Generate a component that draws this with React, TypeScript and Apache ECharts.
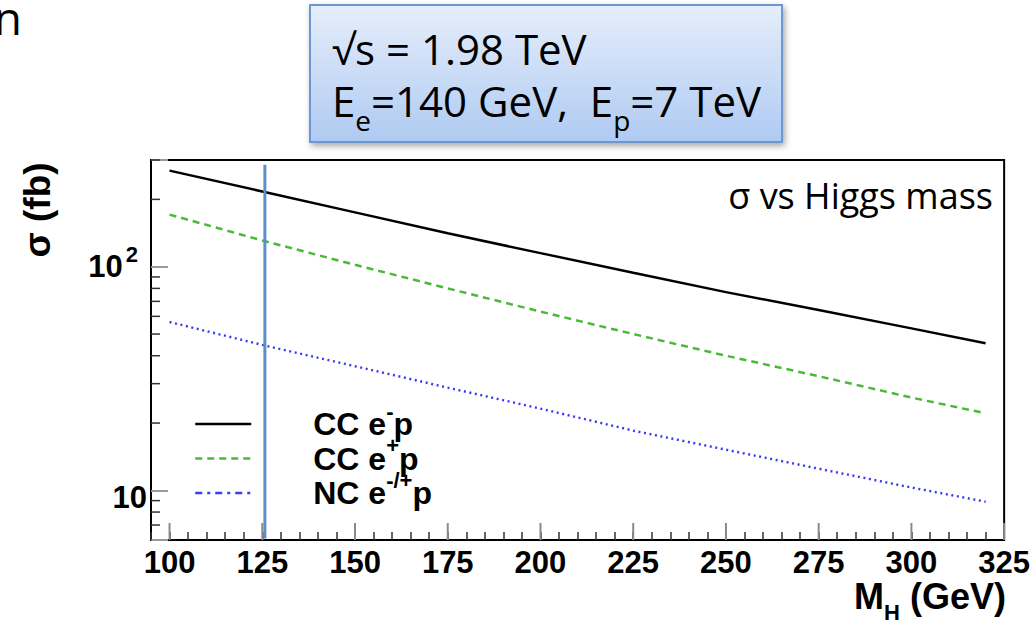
import React, { useEffect, useRef } from "react";
import * as echarts from "echarts";

// Higgs mass points (GeV) and cross sections (fb)
const massGeV = [100, 125, 150, 175, 200, 225, 250, 275, 300, 320];
const sigmaCCeMinus = [269, 217, 175, 141, 115, 94, 77, 64, 53, 45.5];
const sigmaCCePlus = [171, 131, 102, 80, 63, 50, 40, 32.4, 26, 22.1];
const sigmaNC = [56.6, 44.7, 35.9, 28.8, 23.2, 18.5, 15.2, 12.5, 10.3, 8.9];

const seriesNames = ["CC e-p", "CC e+p", "NC e-/+p"];

// axis ranges and tick positions
const xRange = [95, 325];
const yRange = [6, 300];
const xMajorTicks = [100, 125, 150, 175, 200, 225, 250, 275, 300, 325];
const yMinorTicks = [7, 8, 9, 20, 30, 40, 50, 60, 70, 80, 90, 200, 300];

// vertical marker at the Higgs mass, from top to bottom (fb)
const higgsMass = 125.7;
const higgsLineSpan = [286, 6.1];

const BOLD = "'Liberation Sans', Arial, Helvetica, sans-serif";
const SLIDE = "'Open Sans', 'Noto Sans', sans-serif";

export default function App() {
  const ref = useRef<HTMLDivElement>(null);

  useEffect(() => {
    if (!ref.current) return;
    const chart = echarts.init(ref.current, undefined, { renderer: "svg" });

    const zip = (ys: number[]) => massGeV.map((m, i) => [m, ys[i]]);

    const legendRich: Record<string, string> = {
      "CC e-p": "{m0|CC e}{s|-}{m|p}",
      "CC e+p": "{m0|CC e}{s|+}{m|p}",
      "NC e-/+p": "{m0|NC e}{s|-/+}{m|p}",
    };

    const hiddenSymbol = { opacity: 0, borderWidth: 0 };

    chart.setOption({
      animation: false,
      backgroundColor: "#ffffff",
      grid: {
        left: 151,
        top: 160,
        right: 25,
        bottom: 84,
        show: true,
        borderColor: "#000",
        borderWidth: 2,
        backgroundColor: "transparent",
      },
      xAxis: {
        type: "value",
        min: xRange[0],
        max: xRange[1],
        interval: 5,
        axisLine: { show: true, lineStyle: { color: "#000", width: 2 } },
        axisTick: { show: true, inside: true, length: 8, lineStyle: { color: "#333", width: 1.5 } },
        splitLine: { show: false },
        axisLabel: {
          show: true,
          margin: 7,
          color: "#000",
          fontFamily: BOLD,
          fontWeight: "bold",
          fontSize: 31,
          formatter: (v: number) => (Math.round(v) % 25 === 0 ? String(Math.round(v)) : ""),
        },
      },
      yAxis: {
        type: "log",
        logBase: 10,
        min: yRange[0],
        max: yRange[1],
        axisLine: { show: true, lineStyle: { color: "#000", width: 2 } },
        axisTick: { show: true, inside: true, length: 17, lineStyle: { color: "#999", width: 2 } },
        splitLine: { show: false },
        axisLabel: {
          show: true,
          margin: 4,
          color: "#000",
          formatter: (v: number) => {
            if (Math.abs(v - 100) < 1e-6) return "{n|10}{s|2}";
            if (Math.abs(v - 10) < 1e-6) return "{d|10}";
            return "";
          },
          rich: {
            n: { fontFamily: BOLD, fontWeight: "bold", fontSize: 31, lineHeight: 32 },
            s: {
              fontFamily: BOLD,
              fontWeight: "bold",
              fontSize: 22,
              lineHeight: 24,
              padding: [0, 9, 24, 3],
            },
            d: {
              fontFamily: BOLD,
              fontWeight: "bold",
              fontSize: 31,
              lineHeight: 32,
              padding: [14, 0, 0, 0],
            },
          },
        },
      },
      legend: {
        orient: "vertical",
        left: 189,
        top: 395,
        itemWidth: 56,
        itemHeight: 14,
        itemGap: -13.5,
        selectedMode: false,
        itemStyle: hiddenSymbol,
        data: [
          {
            name: seriesNames[0],
            itemStyle: hiddenSymbol,
            lineStyle: { color: "#000", width: 2.5, type: "solid" },
          },
          {
            name: seriesNames[1],
            itemStyle: hiddenSymbol,
            lineStyle: { color: "#4cb83a", width: 2.5, type: [7, 5] },
          },
          {
            name: seriesNames[2],
            itemStyle: hiddenSymbol,
            lineStyle: { color: "#3b3bf0", width: 2.5, type: [7, 5, 3, 5] },
          },
        ],
        formatter: (name: string) => legendRich[name] || name,
        textStyle: {
          color: "#000",
          rich: {
            m0: {
              fontFamily: BOLD,
              fontWeight: "bold",
              fontSize: 32,
              lineHeight: 30,
              padding: [0, 0, 0, 57],
            },
            m: { fontFamily: BOLD, fontWeight: "bold", fontSize: 32, lineHeight: 30 },
            s: {
              fontFamily: BOLD,
              fontWeight: "bold",
              fontSize: 22,
              lineHeight: 22,
              padding: [0, 0, 26, 0],
            },
          },
        },
      },
      series: [
        {
          name: seriesNames[0],
          type: "line",
          data: zip(sigmaCCeMinus),
          symbol: "none",
          lineStyle: { color: "#000", width: 2.5, type: "solid" },
          itemStyle: { color: "#000" },
        },
        {
          name: seriesNames[1],
          type: "line",
          data: zip(sigmaCCePlus),
          symbol: "none",
          lineStyle: { color: "#4cb83a", width: 2.5, type: [7, 5] },
          itemStyle: { color: "#4cb83a" },
        },
        {
          name: seriesNames[2],
          type: "line",
          data: zip(sigmaNC),
          symbol: "none",
          lineStyle: { color: "#3838f2", width: 2.4, type: [2, 3.6] },
          itemStyle: { color: "#3838f2" },
        },
        {
          name: "Higgs mass",
          type: "line",
          data: higgsLineSpan.map((s) => [higgsMass, s]),
          symbol: "none",
          silent: true,
          z: 3,
          lineStyle: { color: "#5b8fcb", width: 3, type: "solid" },
          itemStyle: { color: "#5b8fcb" },
        },
        {
          // long ticks at the labelled masses
          type: "custom",
          silent: true,
          data: xMajorTicks.map((v) => [v, yRange[0]]),
          renderItem: (_p: any, api: any) => {
            const p = api.coord([api.value(0), api.value(1)]);
            return {
              type: "line",
              shape: { x1: p[0], y1: p[1], x2: p[0], y2: p[1] - 17 },
              style: { stroke: "#8a8a8a", lineWidth: 2 },
            };
          },
        },
        {
          // minor log ticks on the cross-section axis
          type: "custom",
          silent: true,
          data: yMinorTicks.map((v) => [xRange[0], v]),
          renderItem: (_p: any, api: any) => {
            const p = api.coord([api.value(0), api.value(1)]);
            return {
              type: "line",
              shape: { x1: p[0], y1: p[1], x2: p[0] + 9, y2: p[1] },
              style: { stroke: "#333", lineWidth: 1.5 },
            };
          },
        },
      ],
      graphic: [
        {
          type: "text",
          x: 22,
          y: 17,
          style: {
            text: "n",
            font: `46px ${SLIDE}`,
            fill: "#000",
            textAlign: "right",
            textVerticalAlign: "middle",
          },
        },
        {
          type: "rect",
          shape: { x: 310, y: 5, width: 472, height: 137 },
          style: {
            fill: new echarts.graphic.LinearGradient(0, 0, 0, 1, [
              { offset: 0, color: "#e6eefb" },
              { offset: 1, color: "#afcaf2" },
            ]),
            stroke: "#6c98d2",
            lineWidth: 2,
            shadowColor: "rgba(0,0,0,0.35)",
            shadowBlur: 6,
            shadowOffsetX: 2,
            shadowOffsetY: 3,
          },
        },
        {
          type: "text",
          x: 332,
          y: 48,
          style: {
            text: "√s = 1.98 TeV",
            font: `42px ${SLIDE}`,
            fill: "#000",
            textAlign: "left",
            textVerticalAlign: "middle",
          },
        },
        {
          type: "text",
          x: 332,
          y: 100,
          style: {
            text: "{m|E}{s|e}{m|=140 GeV,  E}{s|p}{m|=7 TeV}",
            textAlign: "left",
            textVerticalAlign: "middle",
            rich: {
              m: { fontFamily: SLIDE, fontSize: 42, lineHeight: 50, fill: "#000" },
              s: {
                fontFamily: SLIDE,
                fontSize: 28,
                lineHeight: 30,
                padding: [40, 0, 0, 0],
                fill: "#000",
              },
            },
          },
        },
        {
          type: "text",
          x: 993,
          y: 195,
          style: {
            text: "σ vs Higgs mass",
            font: `36px ${SLIDE}`,
            fill: "#000",
            textAlign: "right",
            textVerticalAlign: "middle",
          },
        },
        {
          type: "text",
          x: 37,
          y: 210,
          rotation: Math.PI / 2,
          style: {
            text: "σ (fb)",
            font: `bold 37px ${BOLD}`,
            fill: "#000",
            textAlign: "center",
            textVerticalAlign: "middle",
          },
        },
        {
          type: "text",
          x: 1006,
          y: 596,
          style: {
            text: "{b|M}{s|H}{b| (GeV)}",
            textAlign: "right",
            textVerticalAlign: "middle",
            rich: {
              b: { fontFamily: BOLD, fontWeight: "bold", fontSize: 36, lineHeight: 38, fill: "#000" },
              s: {
                fontFamily: BOLD,
                fontWeight: "bold",
                fontSize: 22,
                lineHeight: 22,
                padding: [32, 0, 0, 0],
                fill: "#000",
              },
            },
          },
        },
      ],
    });

    return () => chart.dispose();
  }, []);

  return (
    <div
      ref={ref}
      style={{ position: "fixed", left: 0, top: 0, width: 1033, height: 624, background: "#fff" }}
    />
  );
}
